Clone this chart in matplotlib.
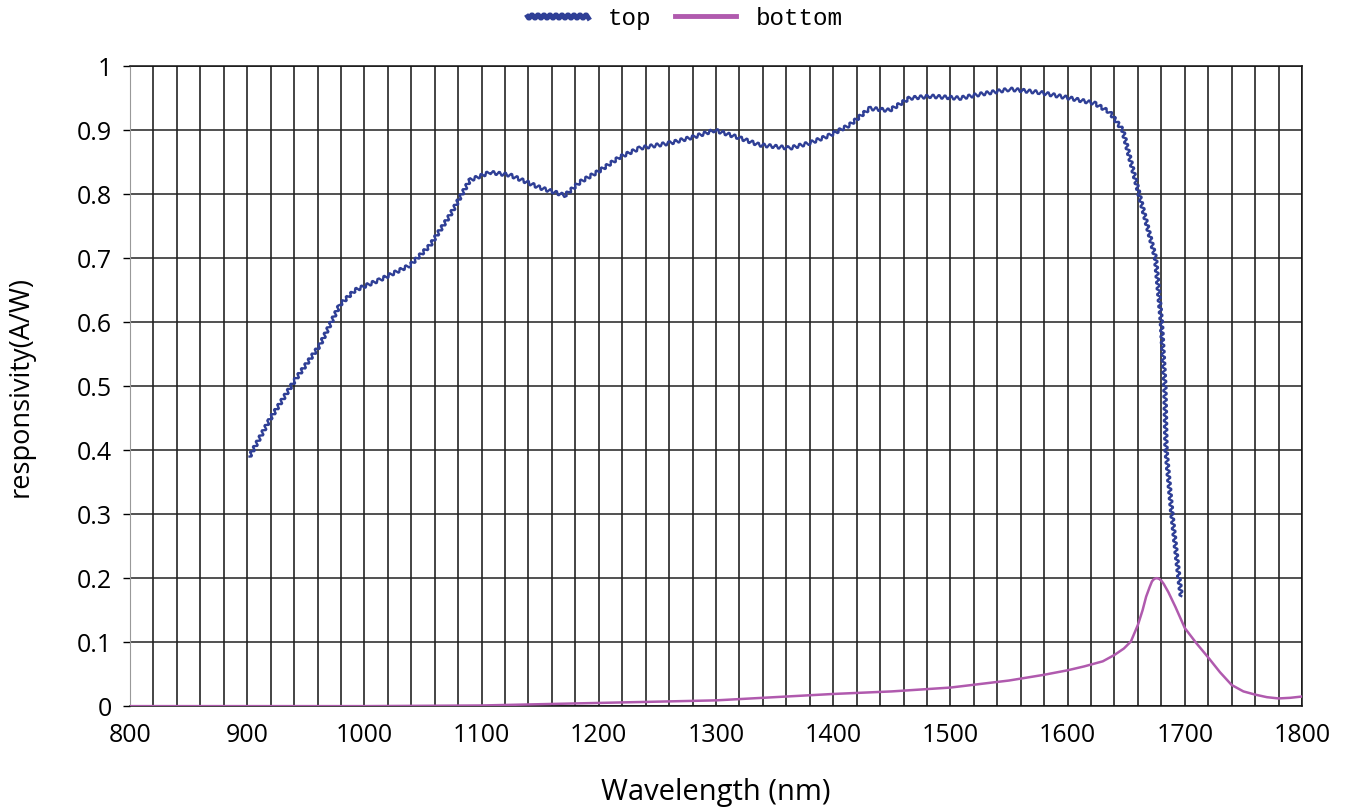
import matplotlib
matplotlib.use("Agg")
import matplotlib.pyplot as plt
from matplotlib.ticker import MultipleLocator

# responsivity curves
top_wl = [902, 919, 941, 962, 979, 992, 1013, 1039, 1056, 1073, 1090, 1107, 1124,
          1150, 1171, 1184, 1201, 1218, 1235, 1261, 1282, 1299, 1320, 1337, 1363,
          1380, 1397, 1414, 1431, 1448, 1465, 1483, 1508, 1525, 1551, 1576, 1602,
          1623, 1636, 1647, 1661, 1675, 1680, 1683, 1684, 1689, 1695, 1697]
top_resp = [0.39, 0.447, 0.51, 0.564, 0.627, 0.65, 0.666, 0.689, 0.72, 0.767, 0.822,
            0.834, 0.83, 0.81, 0.798, 0.819, 0.837, 0.858, 0.872, 0.88, 0.89, 0.9,
            0.888, 0.877, 0.872, 0.88, 0.892, 0.908, 0.934, 0.931, 0.95, 0.953, 0.95,
            0.956, 0.964, 0.959, 0.95, 0.942, 0.928, 0.9, 0.8, 0.7, 0.6, 0.5, 0.4,
            0.3, 0.2, 0.172]

bottom_wl = [800, 1000, 1100, 1200, 1300, 1400, 1450, 1500, 1550, 1580, 1600, 1614,
             1630, 1640, 1648, 1654, 1660, 1664, 1667, 1670, 1672, 1674, 1676, 1678,
             1680, 1682, 1686, 1692, 1700, 1710, 1720, 1730, 1740, 1750, 1760, 1770,
             1780, 1790, 1800]
bottom_resp = [0.0, 0.0, 0.001, 0.005, 0.009, 0.019, 0.023, 0.029, 0.04, 0.049, 0.056,
               0.062, 0.07, 0.08, 0.09, 0.101, 0.127, 0.15, 0.171, 0.186, 0.195,
               0.199, 0.2, 0.199, 0.196, 0.191, 0.178, 0.155, 0.122, 0.098, 0.076,
               0.053, 0.033, 0.023, 0.018, 0.014, 0.012, 0.013, 0.015]

x_ticks = [800, 900, 1000, 1100, 1200, 1300, 1400, 1500, 1600, 1700, 1800]
y_ticks = [0, 0.1, 0.2, 0.3, 0.4, 0.5, 0.6, 0.7, 0.8, 0.9, 1.0]
y_labels = ["0", "0.1", "0.2", "0.3", "0.4", "0.5", "0.6", "0.7", "0.8", "0.9", "1"]

fig = plt.figure(figsize=(13.54, 8.07), dpi=100)
ax = fig.add_axes([0.096, 0.125, 0.8656, 0.793])

top_line, = ax.plot(top_wl, top_resp, color="#2f3f96", lw=1.7, label="top", zorder=3)
top_line.set_sketch_params(scale=1.8, length=6, randomness=1)
ax.plot(bottom_wl, bottom_resp, color="#b05aae", lw=1.8, label="bottom", zorder=3)

ax.set_xlim(800, 1800)
ax.set_ylim(0, 1)
ax.set_xticks(x_ticks)
ax.xaxis.set_minor_locator(MultipleLocator(20))
ax.set_yticks(y_ticks)
ax.set_yticklabels(y_labels)

ax.grid(True, which="both", axis="x", color="#111111", lw=1.1)
ax.grid(True, which="major", axis="y", color="#222222", lw=1.1)
ax.set_axisbelow(True)

ax.tick_params(axis="x", which="both", length=0, pad=12, labelsize=18)
ax.tick_params(axis="y", length=5, width=1, pad=8, labelsize=18)
for lab in ax.get_xticklabels() + ax.get_yticklabels():
    lab.set_fontfamily("Open Sans")

ax.spines["left"].set_color("#999999")
for side in ["top", "right", "bottom"]:
    ax.spines[side].set_color("#111111")
    ax.spines[side].set_linewidth(1.1)

ax.set_xlabel("Wavelength (nm)", fontsize=21, family="Open Sans", labelpad=22)
ax.set_ylabel("responsivity(A/W)", fontsize=19.5, family="Open Sans", labelpad=30)

leg = ax.legend(loc="lower center", bbox_to_anchor=(0.4735, 1.03), ncol=2, frameon=False,
                prop={"family": "Liberation Mono", "size": 17.5}, handlelength=2.5,
                handletextpad=0.8, columnspacing=1.0, borderaxespad=0.3)
for h in leg.legend_handles:
    h.set_linewidth(3.5)

fig.savefig("out.png", dpi=100)
